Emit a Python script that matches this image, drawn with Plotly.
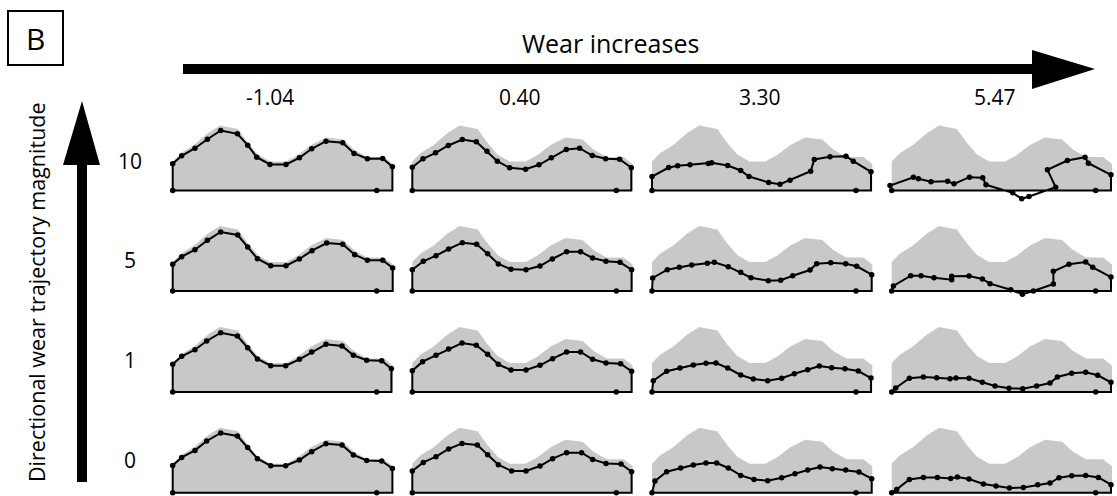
import plotly.graph_objects as go

W, H = 1117, 496

col_labels = ["-1.04", "0.40", "3.30", "5.47"]
row_labels = ["10", "5", "1", "0"]

# original (unworn) profile, shown in grey in every panel
gray_x = [0, 8.3, 21.3, 35.3, 47.3, 65.3, 75.3, 85.3, 97.3, 113.3, 125.3, 138.3, 153.3, 170.3, 181.3, 194.3, 211.3, 220.3]
gray_h = [29, 37.5, 45.5, 57.5, 65, 61.5, 47.5, 36, 29, 29, 35.5, 45.5, 53, 51, 41, 33.5, 33.5, 26.5]

# worn profiles: row = trajectory magnitude (10, 5, 1, 0), column = wear (-1.04, 0.40, 3.30, 5.47)
r10_c1_x = [0, 9, 22.3, 34.7, 48, 64.7, 75, 84, 97.3, 113.3, 126.7, 139, 153.3, 170, 181.3, 194.7, 210, 219.7]
r10_c1_y = [26.7, 34.7, 42.3, 51.3, 60, 56.7, 45.3, 33.3, 26, 26, 32.7, 41.7, 49.3, 47.7, 37, 31.7, 32, 23.7]
r10_c2_x = [0, 10.7, 23.3, 36, 50, 64, 74.7, 85, 97.3, 113.3, 126.7, 139, 154, 167.3, 180, 193.3, 207.3, 219]
r10_c2_y = [23.3, 31.7, 37.7, 45, 51, 48.7, 39.3, 29.3, 22.7, 21.3, 25.7, 32.7, 41, 42.3, 35, 31.7, 31.3, 22.7]
r10_c3_x = [0, 16.7, 25.7, 38, 56.3, 59.7, 75.7, 88.7, 97, 116.7, 128, 138, 158.7, 162.3, 178, 194, 201.3, 219]
r10_c3_y = [14, 23, 24.7, 25.7, 27, 27.7, 25, 20, 14, 8, 6.3, 10.3, 19.3, 31, 33.7, 34.3, 29.3, 18.7]
r10_c4_x = [-1.7, 21.7, 26.7, 39.3, 56, 62.3, 77.7, 91, 94.3, 121, 130, 137.3, 164, 155.7, 175.7, 193.3, 196.7, 219.3]
r10_c4_y = [5, 13.3, 11.7, 8.7, 9.3, 6.7, 13.3, 12.7, 5.7, -2.3, -8.3, -6, 3.3, 20.7, 30, 33.3, 27.3, 15.7]

r5_c1_x = [0, 9, 22.3, 34.7, 48, 65, 75, 84.7, 98, 113.3, 126.7, 139.3, 154, 170, 182, 194.7, 210, 220]
r5_c1_y = [26.7, 34.3, 41.3, 50.7, 59, 56, 44, 32.3, 25.3, 25.3, 32, 40.3, 48, 46.7, 36.3, 30.7, 30.7, 23]
r5_c2_x = [0, 11, 23.7, 36.3, 50, 64.3, 75.3, 86, 98.7, 113.7, 127.7, 140, 154.3, 168.3, 180.3, 193.7, 207.7, 219.3]
r5_c2_y = [21.3, 29.7, 35.3, 42, 48.3, 46.7, 37.3, 27, 21.7, 21.3, 25, 32, 39.3, 39.3, 33, 29.7, 28.7, 21.3]
r5_c3_x = [0.7, 15.3, 27.3, 39.7, 55.3, 62.3, 76.3, 88.7, 99, 116.3, 128.7, 140.7, 158, 164.7, 178.7, 193.7, 204.7, 219.7]
r5_c3_y = [13, 21.3, 23.7, 26, 27.7, 28.7, 24.3, 18.7, 13.3, 10.3, 10.7, 15.3, 21, 27.3, 28.3, 27.3, 24.7, 16.3]
r5_c4_x = [1.7, 19, 29.3, 42.3, 60, 60, 77.3, 90.7, 98.3, 119, 130.7, 141.7, 161.7, 161.7, 177.3, 194, 201, 219.3]
r5_c4_y = [5, 15.3, 15.3, 13.3, 11.3, 14.7, 15, 12, 7.3, 1.3, -3.3, 0, 7, 19.7, 26.7, 29, 23.7, 14]

r1_c1_x = [0, 9, 22.3, 34, 48, 64.7, 75, 84.7, 98, 113, 126.7, 139, 153.3, 169.3, 180.7, 194, 209, 218.7]
r1_c1_y = [27.7, 35.7, 42.3, 51, 59.3, 56, 44.3, 33, 26.3, 26.3, 32.7, 40, 47.7, 46, 36.7, 31.7, 31.3, 23.3]
r1_c2_x = [0, 10.3, 23.7, 36.3, 49.7, 64, 75.3, 86, 98.7, 113.7, 127.7, 140.3, 154.3, 168.3, 180.3, 193.7, 208.3, 219.3]
r1_c2_y = [21.3, 30.3, 36.7, 43, 49, 46.7, 37.7, 27.7, 22, 22, 26.7, 33.3, 40, 40, 32.7, 29, 28.3, 20.7]
r1_c3_x = [1.3, 14.7, 28, 41.3, 54, 64, 75.7, 88.7, 101.3, 115.7, 129.7, 142.3, 155.7, 167.3, 179.7, 193, 206.3, 219]
r1_c3_y = [11.3, 20.7, 24, 27, 28.7, 29, 24, 17, 13, 11.3, 13.7, 18.3, 22.3, 26, 24.3, 23.3, 21, 14]
r1_c4_x = [4, 17.7, 31.7, 45, 58.3, 64.3, 77.3, 90.7, 103.3, 117.3, 131, 145, 158.3, 165.7, 180, 194, 206, 219.3]
r1_c4_y = [4, 13.7, 15, 14.3, 13.3, 14, 13.7, 9.7, 6, 3.7, 3.3, 6, 9, 15, 18.7, 19.7, 16.7, 9.7]

r0_c1_x = [0, 9, 22.3, 34, 48, 64.7, 75, 84.7, 98, 113, 126.7, 139, 153.3, 169.3, 180.7, 194, 209, 219.7]
r0_c1_y = [27.3, 35.3, 42.3, 51.7, 59.7, 56.7, 45.3, 34, 27, 27, 32.7, 41, 49, 47.7, 37.7, 32.3, 31.7, 24.3]
r0_c2_x = [0, 11, 23.7, 36.3, 49.7, 65, 75.3, 86, 99.3, 113.7, 127.7, 140.3, 154.3, 169.3, 180.3, 193.7, 208.7, 219.3]
r0_c2_y = [21.7, 30.3, 36, 43.7, 49.3, 47.7, 38, 28, 21.7, 21.7, 26.7, 34, 40, 40, 33.3, 29.3, 28.7, 21]
r0_c3_x = [3, 14.7, 28.7, 41.3, 54, 64.7, 76.3, 88.7, 102, 115.7, 129.7, 143, 155.7, 168, 180.3, 193.7, 207, 219.7]
r0_c3_y = [11.7, 21, 24.7, 27.7, 29.7, 29.7, 24.7, 17.3, 13.3, 12, 15, 19, 22.7, 25.7, 24, 22.7, 20.7, 14]
r0_c4_x = [5, 17.7, 31.7, 45.7, 59, 65.7, 77.3, 91.7, 104.3, 117.7, 131.7, 146, 158.3, 167.3, 180, 194, 206.7, 219.3]
r0_c4_y = [3.3, 13.3, 15.3, 15.3, 14.3, 15.7, 13.7, 8.7, 6.7, 4.7, 5.3, 8, 9.7, 15, 17, 17.3, 15.3, 8]

# reference points on each base line
base_dots_x = [0, 204]

profiles = [
    [(r10_c1_x, r10_c1_y), (r10_c2_x, r10_c2_y), (r10_c3_x, r10_c3_y), (r10_c4_x, r10_c4_y)],
    [(r5_c1_x, r5_c1_y), (r5_c2_x, r5_c2_y), (r5_c3_x, r5_c3_y), (r5_c4_x, r5_c4_y)],
    [(r1_c1_x, r1_c1_y), (r1_c2_x, r1_c2_y), (r1_c3_x, r1_c3_y), (r1_c4_x, r1_c4_y)],
    [(r0_c1_x, r0_c1_y), (r0_c2_x, r0_c2_y), (r0_c3_x, r0_c3_y), (r0_c4_x, r0_c4_y)],
]

# layout geometry (pixels)
col_left = [172.7, 412.3, 652.0, 891.7]
row_base = [190.5, 291.0, 392.0, 492.7]
PAD_X = 5
TOP = 72
BOT = 14

FONT = "Open Sans, Arial, sans-serif"

fig = go.Figure()
layout_axes = {}

for r in range(4):
    for c in range(4):
        k = r * 4 + c + 1
        xa = "x" if k == 1 else f"x{k}"
        ya = "y" if k == 1 else f"y{k}"
        px, py = profiles[r][c]

        # grey original profile
        gx = [gray_x[0]] + gray_x + [gray_x[-1]]
        gy = [0] + gray_h + [0]
        fig.add_trace(go.Scatter(
            x=gx, y=gy, mode="lines", fill="toself",
            fillcolor="#c8c8c8", line=dict(width=0, color="#c8c8c8"),
            hoverinfo="skip", showlegend=False, xaxis=xa, yaxis=ya))

        # worn profile outline (closed with base line)
        lx = [0] + list(px) + [px[-1], 0]
        ly = [0] + list(py) + [0, 0]
        fig.add_trace(go.Scatter(
            x=lx, y=ly, mode="lines", line=dict(color="black", width=2),
            hoverinfo="skip", showlegend=False, xaxis=xa, yaxis=ya))
        fig.add_trace(go.Scatter(
            x=list(px), y=list(py), mode="markers",
            marker=dict(color="black", size=5.5),
            showlegend=False, xaxis=xa, yaxis=ya, cliponaxis=False))
        fig.add_trace(go.Scatter(
            x=base_dots_x, y=[0, 0], mode="markers",
            marker=dict(color="black", size=5.5),
            showlegend=False, xaxis=xa, yaxis=ya, cliponaxis=False))

        left = col_left[c]
        base = row_base[r]
        left_px = left - PAD_X
        right_px = min(left + 220 + PAD_X, W)
        bot_px = min(base + BOT, H)
        top_px = base - TOP
        xkey = "xaxis" if k == 1 else f"xaxis{k}"
        ykey = "yaxis" if k == 1 else f"yaxis{k}"
        layout_axes[xkey] = dict(
            domain=[left_px / W, right_px / W],
            range=[left_px - left, right_px - left], visible=False, fixedrange=True)
        layout_axes[ykey] = dict(
            domain=[1 - bot_px / H, 1 - top_px / H],
            range=[-(bot_px - base), TOP], visible=False, fixedrange=True)

fig.update_layout(**layout_axes)


def px2paper(x, y):
    return x / W, 1 - y / H


def path(points):
    s = ""
    for i, (x, y) in enumerate(points):
        xp, yp = px2paper(x, y)
        s += ("M" if i == 0 else "L") + f"{xp:.5f},{yp:.5f} "
    return s + "Z"


shapes = []
# horizontal arrow (wear increases)
shapes.append(dict(type="path", xref="paper", yref="paper",
                   path=path([(183, 64), (1032, 64), (1032, 50), (1095, 69),
                              (1032, 89), (1032, 74), (183, 74)]),
                   fillcolor="black", line=dict(width=0)))
# vertical arrow (trajectory magnitude)
shapes.append(dict(type="path", xref="paper", yref="paper",
                   path=path([(77, 482), (77, 165), (63, 165), (82, 101),
                              (100, 165), (87, 165), (87, 482)]),
                   fillcolor="black", line=dict(width=0)))
# panel label box
x0, y0 = px2paper(8, 11)
x1, y1 = px2paper(63, 65)
shapes.append(dict(type="rect", xref="paper", yref="paper",
                   x0=x0, x1=x1, y0=y1, y1=y0,
                   line=dict(color="black", width=2), fillcolor="rgba(0,0,0,0)"))

ann = []


def text(x, y, s, size, angle=0):
    xp, yp = px2paper(x, y)
    ann.append(dict(x=xp, y=yp, xref="paper", yref="paper", text=s,
                    showarrow=False, xanchor="center", yanchor="middle",
                    textangle=angle, font=dict(family=FONT, size=size, color="black")))


text(35.5, 38, "B", 30)
text(610, 43, "Wear increases", 25)
col_text_x = [270, 520, 760, 995]
for cx, lab in zip(col_text_x, col_labels):
    text(cx, 97, lab, 21)
row_text_y = [161, 260, 360, 460]
for ry, lab in zip(row_text_y, row_labels):
    text(130, ry, lab, 21)
text(36, 292, "Directional wear trajectory magnitude", 21.5, angle=-90)

fig.update_layout(
    width=W, height=H, margin=dict(l=0, r=0, t=0, b=0),
    paper_bgcolor="white", plot_bgcolor="rgba(0,0,0,0)",
    shapes=shapes, annotations=ann, showlegend=False)

fig.write_html("out.html")
